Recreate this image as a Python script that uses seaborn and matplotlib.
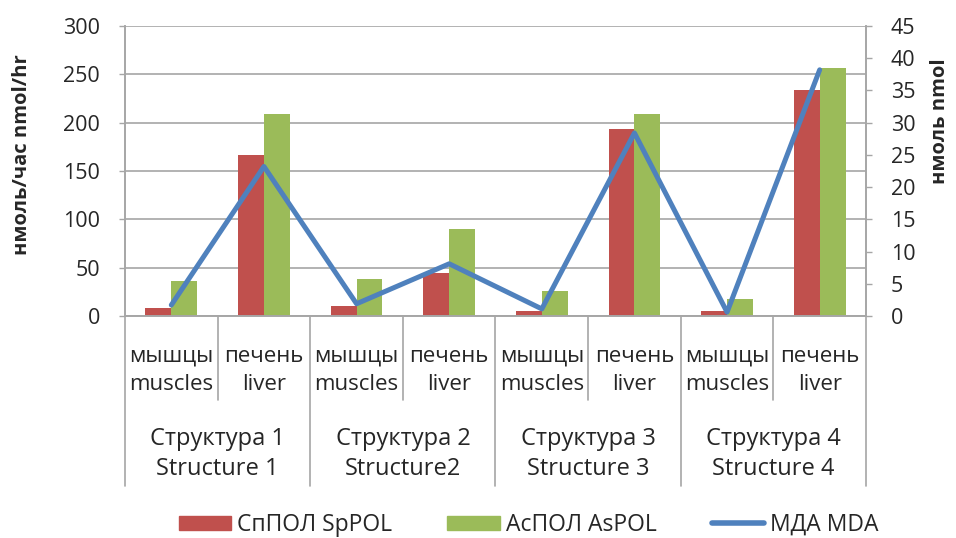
import pandas as pd
import matplotlib
matplotlib.use("Agg")
import matplotlib.pyplot as plt
import seaborn as sns
from matplotlib.patches import Patch
from matplotlib.lines import Line2D

# data
structures = ["Структура 1\nStructure 1", "Структура 2\nStructure2",
              "Структура 3\nStructure 3", "Структура 4\nStructure 4"]
tissues = ["мышцы\nmuscles", "печень\nliver"]
sppol = [8, 167, 10, 45, 5, 193, 5, 234]
aspol = [36, 209, 38, 90, 26, 209, 18, 257]
mda = [1.7, 23.2, 1.9, 8.1, 1.1, 28.4, 0.6, 38.2]
series_names = ["СпПОЛ SpPOL", "АсПОЛ AsPOL", "МДА MDA"]

red, green, blue = "#C0504D", "#9BBB59", "#4F81BD"
grid_col = "#A6A6A6"

sns.set_style("white")
plt.rcParams["font.family"] = ["Open Sans", "DejaVu Sans"]
plt.rcParams["font.size"] = 15

cats = [f"{s}|{t}" for s in structures for t in tissues]
df = pd.DataFrame({
    "cat": cats * 2,
    "value": sppol + aspol,
    "series": [series_names[0]] * 8 + [series_names[1]] * 8,
})

fig = plt.figure(figsize=(9.56, 5.38), dpi=100)
ax = fig.add_axes([125 / 956, 1 - 316 / 538, 741 / 956, 290 / 538])

sns.barplot(data=df, x="cat", y="value", hue="series", palette=[red, green],
            width=0.56, saturation=1, linewidth=0, ax=ax, legend=False)
ax.set_xlim(-0.5, 7.5)
ax.set_ylim(0, 300)
ax.set_yticks(range(0, 301, 50))
ax.yaxis.grid(True, color=grid_col, lw=1.2)
ax.set_axisbelow(True)
ax.set_xlabel("")
ax.set_ylabel("")
ax.tick_params(axis="x", length=0, labelbottom=False)
ax.tick_params(axis="y", direction="out", length=4, width=1, color=grid_col, pad=14,
               left=True, labelsize=15.5)
for side in ["left", "bottom", "right"]:
    ax.spines[side].set_color(grid_col)
    ax.spines[side].set_linewidth(1.2)
ax.spines["top"].set_visible(False)

ax2 = ax.twinx()
sns.lineplot(x=list(range(8)), y=mda, ax=ax2, color=blue, lw=3.6)
ax2.set_ylim(0, 45)
ax2.set_yticks(range(0, 46, 5))
ax2.tick_params(axis="y", direction="out", length=4, width=1, color=grid_col, pad=14,
                right=True, labelsize=15.5)
for side in ["left", "bottom", "right"]:
    ax2.spines[side].set_color(grid_col)
    ax2.spines[side].set_linewidth(1.2)
ax2.spines["top"].set_visible(False)
ax2.set_xlim(-0.5, 7.5)

# two-level category axis
tr = ax.get_xaxis_transform()
for i, c in enumerate(cats):
    ax.text(i, -0.187, c.split("|")[1], transform=tr, ha="center", va="center",
            linespacing=1.45, fontsize=16)
for g, s in enumerate(structures):
    ax.text(2 * g + 0.5, -0.476, s, transform=tr, ha="center", va="center",
            linespacing=1.37, fontsize=17)
for x in [0.5, 2.5, 4.5, 6.5]:
    ax.plot([x, x], [0, -0.29], transform=tr, color=grid_col, lw=1.2, clip_on=False)
for x in [-0.5, 1.5, 3.5, 5.5, 7.5]:
    ax.plot([x, x], [0, -0.586], transform=tr, color=grid_col, lw=1.2, clip_on=False)

fig.text(22 / 956, 1 - 155 / 538, "нмоль/час nmol/hr", rotation=90, fontweight="bold",
         fontsize=14.5, ha="center", va="center")
fig.text(940 / 956, 1 - 121 / 538, "нмоль nmol", rotation=90, fontweight="bold",
         fontsize=14.5, ha="center", va="center")

handles = [Patch(color=red), Patch(color=green), Line2D([], [], color=blue, lw=4)]
fig.legend(handles, series_names, loc="center", bbox_to_anchor=(0.553, 1 - 525 / 538),
           ncol=3, frameon=False, handlelength=2.3, handleheight=0.6,
           handletextpad=0.26, columnspacing=2.4, fontsize=16.5)

fig.savefig("out.png", dpi=100)
